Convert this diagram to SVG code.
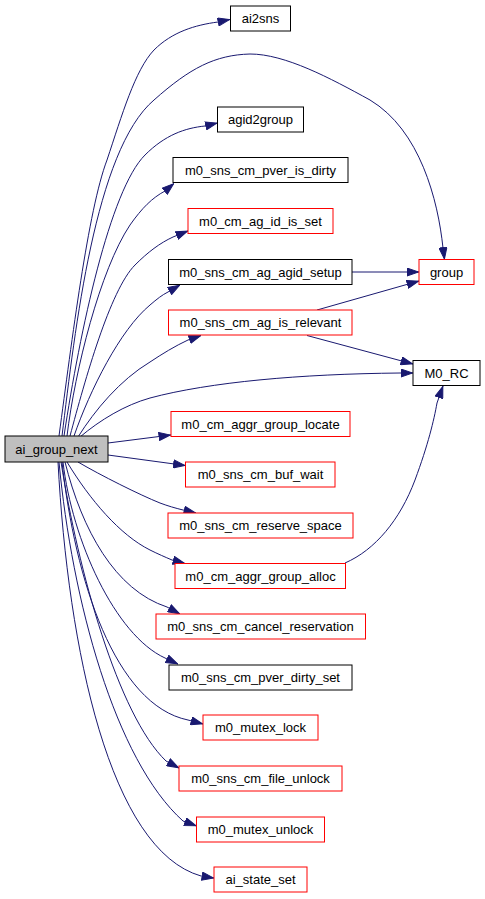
<svg xmlns="http://www.w3.org/2000/svg" width="485" height="899" viewBox="0 0 485 899">
<style>
.n rect{fill:#ffffff;stroke:#000000;stroke-width:1}
.n.r rect{stroke:#ff0000}
.n.g rect{fill:#bfbfbf}
.n text{font-family:"Liberation Sans",Arial,Helvetica,sans-serif;font-size:13px;text-anchor:middle;fill:#000000}
#edges path{fill:none;stroke:#191970;stroke-width:1;marker-end:url(#ah)}
</style>
<defs>
<marker id="ah" viewBox="0 0 12.5 9" refX="12.5" refY="4.5" markerWidth="12.5" markerHeight="9" markerUnits="userSpaceOnUse" orient="auto">
<path d="M0.5,0.5 L12,4.5 L0.5,8.5 Z" fill="#191970" stroke="#191970" stroke-width="1"/>
</marker>
</defs>
<rect width="485" height="899" fill="#ffffff"/>
<g id="edges">
<path d="M59,436 C72,340 88,210 107,160 C122,115 135,70 154,50 C172,32 195,25 218,22 L230,19.5"/>
<path d="M62,436 C75,330 95,150 154,100 C190,68 215,55 250,54 C285,54 330,78 370,100 C420,130 438,200 443,248 L444.5,259.5"/>
<path d="M64,436 C80,330 110,190 145,155 C165,135 185,128 205,126 L217.5,123"/>
<path d="M67,436 C75,370 100,270 130,225 C142,208 152,198 165,191 L174,183.5"/>
<path d="M70,436 C85,380 110,290 135,265 C148,252 160,243 173,237 L188,231"/>
<path d="M74,436 C90,390 120,330 150,305 C157,299 162,295 168,292 L180,285"/>
<path d="M78,437 C95,410 120,380 150,362 C162,354 175,346 188,340 L201,335.5"/>
<path d="M80,437 C100,420 125,405 150,398 C210,382 300,374 400,373 L413,373"/>
<path d="M108,443 L171,435"/>
<path d="M108,455 L185.5,465.5"/>
<path d="M78,462 C100,475 140,495 160,503 C168,506 175,508 183,510 L196,513"/>
<path d="M67,462 C90,500 120,535 150,550 C158,554 165,557 172,560 L185,563.5"/>
<path d="M65,462 C82,530 115,590 167,607 L180,614"/>
<path d="M63,462 C72,540 115,635 165,658 L178,664"/>
<path d="M62,462 C75,580 115,705 188,720 L203,724"/>
<path d="M61,462 C78,570 118,715 166,761 L179,768"/>
<path d="M59,462 C72,600 115,760 183,821 L196.5,826"/>
<path d="M58,462 C68,650 110,850 201,876 L214,878"/>
<path d="M352,272 L419,272"/>
<path d="M317,310 L419,281"/>
<path d="M307,335.5 L413,364"/>
<path d="M345,563 C375,550 400,520 415,480 C428,445 434,420 437,403 L443,386"/>
</g>
<g id="ai_group_next" class="n g"><rect x="5" y="436" width="103" height="26"/><text x="56.5" y="453.5">ai_group_next</text></g>
<g id="ai2sns" class="n"><rect x="230.5" y="6" width="60" height="25"/><text x="260.5" y="23">ai2sns</text></g>
<g id="agid2group" class="n"><rect x="217.5" y="107" width="86" height="25"/><text x="260.5" y="124">agid2group</text></g>
<g id="m0_sns_cm_pver_is_dirty" class="n"><rect x="173" y="157.5" width="175" height="25"/><text x="260.5" y="174.5">m0_sns_cm_pver_is_dirty</text></g>
<g id="m0_cm_ag_id_is_set" class="n r"><rect x="188" y="208.5" width="145" height="25"/><text x="260.5" y="225.5">m0_cm_ag_id_is_set</text></g>
<g id="m0_sns_cm_ag_agid_setup" class="n"><rect x="168.5" y="259.5" width="183.5" height="25"/><text x="260.5" y="276.5">m0_sns_cm_ag_agid_setup</text></g>
<g id="group" class="n r"><rect x="419" y="259.5" width="55" height="25"/><text x="446.5" y="276.5">group</text></g>
<g id="m0_sns_cm_ag_is_relevant" class="n r"><rect x="168.5" y="310" width="183.5" height="25"/><text x="260.5" y="327">m0_sns_cm_ag_is_relevant</text></g>
<g id="M0_RC" class="n"><rect x="413" y="360.5" width="67" height="25"/><text x="446.5" y="377.5">M0_RC</text></g>
<g id="m0_cm_aggr_group_locate" class="n r"><rect x="171" y="411.5" width="179" height="25"/><text x="260.5" y="428.5">m0_cm_aggr_group_locate</text></g>
<g id="m0_sns_cm_buf_wait" class="n r"><rect x="185.5" y="462" width="149.5" height="25"/><text x="260.5" y="479">m0_sns_cm_buf_wait</text></g>
<g id="m0_sns_cm_reserve_space" class="n r"><rect x="168" y="513" width="185" height="25"/><text x="260.5" y="530">m0_sns_cm_reserve_space</text></g>
<g id="m0_cm_aggr_group_alloc" class="n r"><rect x="175" y="563.5" width="170.5" height="25"/><text x="260.5" y="580.5">m0_cm_aggr_group_alloc</text></g>
<g id="m0_sns_cm_cancel_reservation" class="n r"><rect x="156" y="614" width="209.5" height="25"/><text x="260.5" y="631">m0_sns_cm_cancel_reservation</text></g>
<g id="m0_sns_cm_pver_dirty_set" class="n"><rect x="169" y="665" width="183" height="25"/><text x="260.5" y="682">m0_sns_cm_pver_dirty_set</text></g>
<g id="m0_mutex_lock" class="n r"><rect x="203" y="715" width="115" height="25"/><text x="260.5" y="732">m0_mutex_lock</text></g>
<g id="m0_sns_cm_file_unlock" class="n r"><rect x="179" y="766" width="163" height="25"/><text x="260.5" y="783">m0_sns_cm_file_unlock</text></g>
<g id="m0_mutex_unlock" class="n r"><rect x="196.5" y="817" width="128" height="25"/><text x="260.5" y="834">m0_mutex_unlock</text></g>
<g id="ai_state_set" class="n r"><rect x="214" y="867" width="93" height="25"/><text x="260.5" y="884">ai_state_set</text></g>
</svg>
